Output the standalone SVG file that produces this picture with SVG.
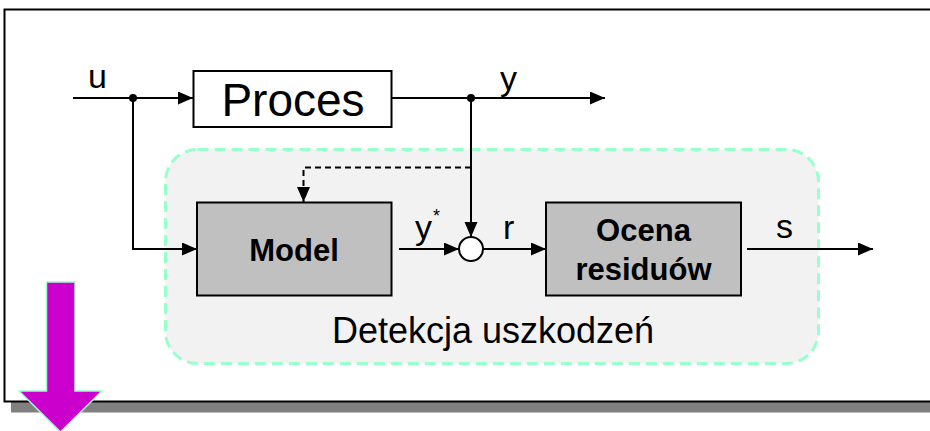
<svg xmlns="http://www.w3.org/2000/svg" width="930" height="431" viewBox="0 0 930 431">
  <style>
    .lbl { font-family: "Liberation Sans", Arial, sans-serif; fill: #000; }
    .box { stroke: #000; stroke-width: 2; }
    .wire { fill: none; stroke: #000; stroke-width: 2; }
    .dash { fill: none; stroke: #000; stroke-width: 2; stroke-dasharray: 6 4; }
  </style>
  <defs>
    <marker id="ah" markerUnits="userSpaceOnUse" markerWidth="16" markerHeight="14" refX="15" refY="6.5" orient="auto">
      <path d="M0,0 L15,6.5 L0,13 z" fill="#000"/>
    </marker>
  </defs>

  <g id="frame">
    <rect x="11" y="402" width="1000" height="10.5" fill="#808080"/>
    <rect x="4.5" y="9.5" width="1000" height="392" fill="#fff" stroke="#000" stroke-width="2"/>
  </g>

  <g id="detekcja">
    <rect x="165.5" y="149.5" width="653" height="214" rx="32" fill="#F2F2F2" stroke="#99FFCC" stroke-width="3" stroke-dasharray="11 6"/>
    <text class="lbl" x="493" y="343" font-size="36" text-anchor="middle">Detekcja uszkodzeń</text>
  </g>

  <g id="proces">
    <rect class="box" x="193.5" y="71" width="198" height="56" fill="#fff"/>
    <text class="lbl" x="293" y="116" font-size="46" text-anchor="middle">Proces</text>
  </g>

  <g id="model">
    <rect class="box" x="197" y="202.5" width="194.5" height="93" fill="#C0C0C0"/>
    <text class="lbl" x="294" y="260.5" font-size="31" font-weight="bold" text-anchor="middle">Model</text>
  </g>

  <g id="ocena">
    <rect class="box" x="546" y="202.5" width="195" height="93" fill="#C0C0C0"/>
    <text class="lbl" x="643.5" y="240.5" font-size="31" font-weight="bold" text-anchor="middle">Ocena</text>
    <text class="lbl" x="643.5" y="280" font-size="31" font-weight="bold" text-anchor="middle">residuów</text>
  </g>

  <g id="sum">
    <circle cx="471" cy="249" r="12" fill="#fff" stroke="#000" stroke-width="2"/>
  </g>

  <g id="connectors">
    <path class="wire" d="M73,98 H193" marker-end="url(#ah)"/>
    <path class="wire" d="M133,98 V249 H197" marker-end="url(#ah)"/>
    <path class="wire" d="M392,98 H605" marker-end="url(#ah)"/>
    <path class="wire" d="M471,98 V237" marker-end="url(#ah)"/>
    <path class="dash" d="M471,167.5 H303.5 V202" marker-end="url(#ah)"/>
    <path class="wire" d="M399,249 H459" marker-end="url(#ah)"/>
    <path class="wire" d="M483,249 H546" marker-end="url(#ah)"/>
    <path class="wire" d="M747,249 H873" marker-end="url(#ah)"/>
    <circle cx="133" cy="98" r="4" fill="#000"/>
    <circle cx="471" cy="98" r="4" fill="#000"/>
    <text class="lbl" x="88" y="88" font-size="34">u</text>
    <text class="lbl" x="500" y="90" font-size="34">y</text>
    <text class="lbl" x="415" y="239" font-size="34">y</text>
    <text class="lbl" x="433" y="222" font-size="18">*</text>
    <text class="lbl" x="503" y="239" font-size="34">r</text>
    <text class="lbl" x="776" y="238" font-size="34">s</text>
  </g>

  <g id="arrow-down">
    <polygon points="46.5,282 75,282 75,391 102,391 60.5,432 19,391 46.5,391" fill="#CC00CC" stroke="#99FFCC" stroke-width="1.5"/>
  </g>
</svg>
